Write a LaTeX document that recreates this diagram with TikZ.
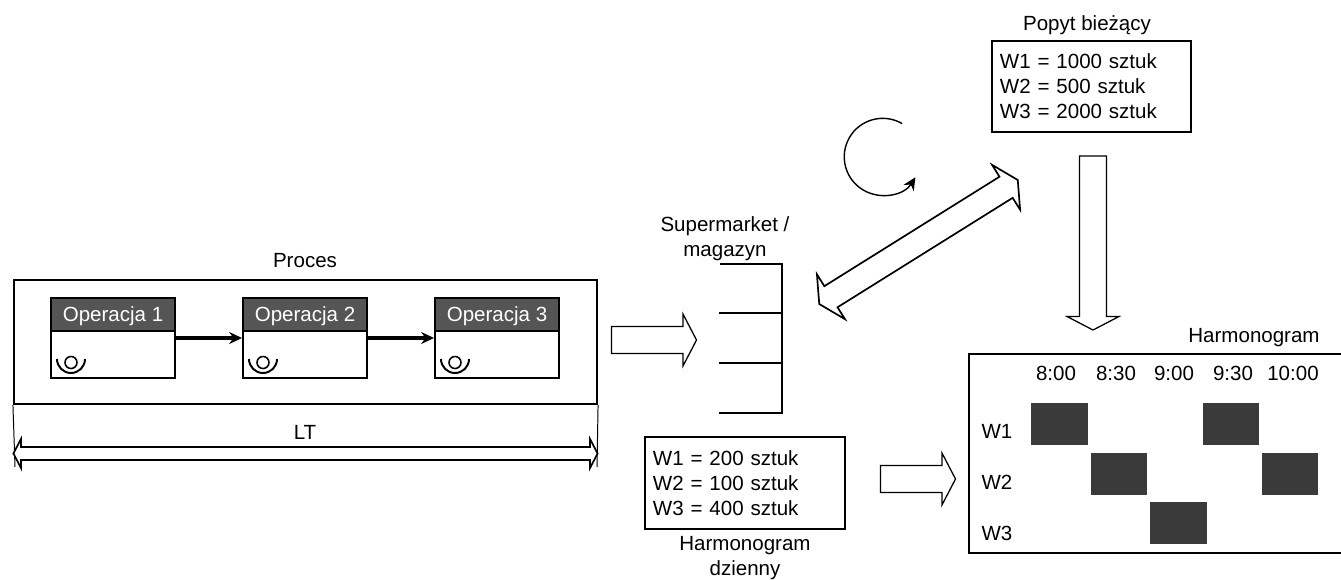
\documentclass[tikz,border=0pt]{standalone}
\usepackage{fontspec}
\setmainfont{Liberation Sans}
\usetikzlibrary{arrows.meta,shapes.arrows,calc}
\definecolor{opgrey}{HTML}{555555}
\definecolor{slotgrey}{HTML}{3A3A3A}
\begin{document}
\begin{tikzpicture}[
  x=0.025cm, y=0.025cm,
  font=\fontsize{14.6}{17.8}\selectfont,
  >={Stealth[length=3.2mm,width=3mm]},
  frame/.style={draw=black, line width=1.4pt, inner sep=0pt},
  opbox/.style={frame, fill=white, minimum width=3.1cm, minimum height=2cm},
  ophead/.style={frame, fill=opgrey, text=white, text depth=0pt, minimum width=3.1cm, minimum height=0.825cm},
  qtybox/.style={frame, align=left, inner xsep=0.2cm},
  slot/.style={fill=slotgrey, minimum width=1.42cm, minimum height=1.05cm, inner sep=0pt},
  lbl/.style={align=center, inner sep=0pt},
  flow/.style={->, line width=2.2pt},
  rack/.style={line width=1.4pt},
  hollow/.style={draw=black, line width=0.9pt, fill=white, inner xsep=0pt},
  rightarrow/.style={hollow, single arrow, inner ysep=0.32cm, single arrow tip angle=125, single arrow head extend=0.31cm},
  twoway/.style={hollow, double arrow, line width=1.2pt, double arrow tip angle=125},
]
\useasboundingbox (0,0) rectangle (1341,-579);
% ---- geometry ----
\def\tA{1056} \def\tB{1116} \def\tC{1174} \def\tD{1233} \def\tE{1293}
\def\rA{-424} \def\rB{-474} \def\rC{-523}

% ---- process with its three operations ----
\node[frame, minimum width=14.575cm, minimum height=3.1cm] (proces) at (305.5,-342) {};
\node[lbl] (procestitle) at (305,-261) {Proces};
\foreach \n/\x in {1/113,2/305,3/497}{
  \node[opbox] (op\n) at (\x,-338) {};
  \node[ophead, anchor=north] (head\n) at (op\n.north) {Operacja \n};
  % operator icon
  \draw[line width=1.1pt] ($(op\n.south west)+(21,16.5)$) circle (6);
  \draw[line width=1.4pt] ($(op\n.south west)+(7,20)$) arc (180:360:14);
}
\draw[flow] (op1.east) -- (op2.west);
\draw[flow] (op2.east) -- (op3.west);

% ---- lead time span ----
\coordinate (ltleft) at (15,-467);
\coordinate (ltright) at (597,-467);
\draw[line width=0.7pt] (proces.south west) -- (ltleft);
\draw[line width=0.7pt] (proces.south east) -- (ltright);
\node[twoway, inner ysep=0.14cm, minimum height=14.6cm, double arrow head extend=0.2cm] (lt) at (305.5,-453.5) {};
\node[lbl] (lttitle) at (305,-432) {LT};

% ---- supermarket ----
\node[lbl] (markettitle) at (725,-239) {Supermarket /\\magazyn};
\draw[rack] (720,-264) -- (782,-264) -- (782,-413) -- (719,-413);
\foreach \y in {-313,-363}{
  \draw[rack] (719,\y) -- (782,\y);
}
\node[rightarrow, minimum height=2.125cm] (toshelf) at (650.5,-340) {};

% ---- daily schedule ----
\node[qtybox, minimum width=5cm, minimum height=2.3cm, text width=4.6cm] (daily) at (745,-483)
  {W1 = 200 sztuk\\W2 = 100 sztuk\\W3 = 400 sztuk};
\node[lbl] (dailytitle) at (745,-558) {Harmonogram\\dzienny};
\node[rightarrow, minimum height=1.875cm] (toplan) at (914.5,-479) {};

% ---- current demand ----
\node[qtybox, minimum width=4.975cm, minimum height=2.275cm, text width=4.575cm] (demand) at (1091.5,-86.5)
  {W1 = 1000 sztuk\\W2 = 500 sztuk\\W3 = 2000 sztuk};
\node[lbl] (demandtitle) at (1087,-25) {Popyt bieżący};
\node[rightarrow, rotate=-90, minimum height=4.35cm] (todown) at (1093,-239.5) {};

% ---- two-way exchange and replenishment loop ----
\node[twoway, rotate=32, inner ysep=0.29cm, minimum height=5.85cm, double arrow head extend=0.35cm] (exchange) at (918.5,-242) {};
\draw[->, line width=1pt] (902,-123.5) arc (60:328:38.5);

% ---- plan (right side runs off the page) ----
\node[frame, minimum width=9.525cm, minimum height=4.975cm] (plan) at (1159.5,-453.5) {};
\node[lbl] (plantitle) at (1254,-338) {Harmonogram};
\foreach \n/\x/\t in {1/\tA/8:00,2/\tB/8:30,3/\tC/9:00,4/\tD/9:30,5/\tE/10:00}{
  \node[lbl] (time\n) at (\x,-373) {\t};
}
\node[lbl] (w1) at (997,-431) {W1};
\node[lbl] (w2) at (997,-482) {W2};
\node[lbl] (w3) at (997,-533) {W3};
\node[slot] (slotA) at (1059.5,\rA) {};
\node[slot] (slotB) at (1119,\rB) {};
\node[slot] (slotC) at (1178.5,\rC) {};
\node[slot] (slotD) at (1231,\rA) {};
\node[slot] (slotE) at (1290,\rB) {};
\end{tikzpicture}
\end{document}
